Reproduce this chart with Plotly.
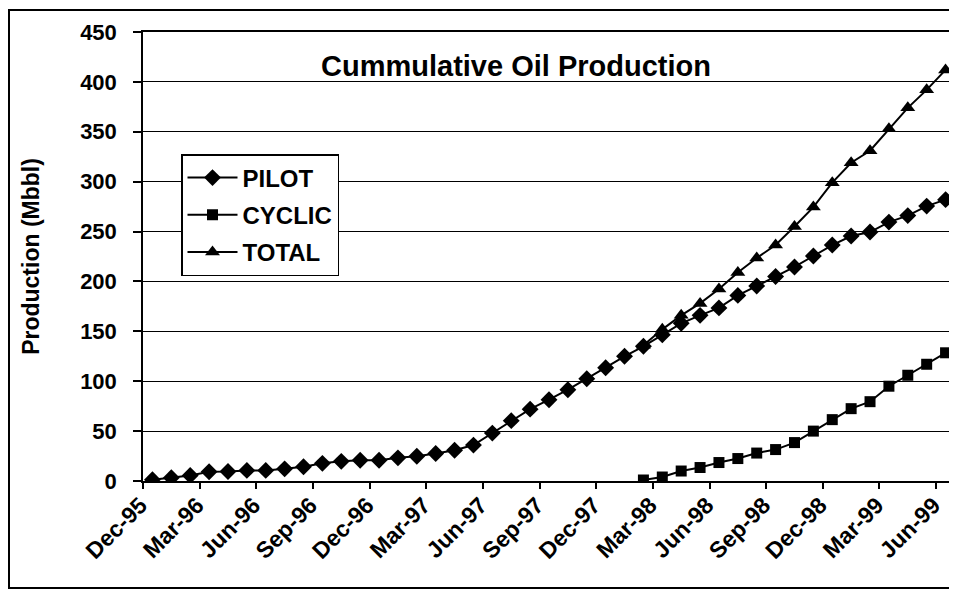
import plotly.graph_objects as go

months = ["Dec-95", "Jan-96", "Feb-96", "Mar-96", "Apr-96", "May-96", "Jun-96", "Jul-96", "Aug-96",
          "Sep-96", "Oct-96", "Nov-96", "Dec-96", "Jan-97", "Feb-97", "Mar-97", "Apr-97", "May-97",
          "Jun-97", "Jul-97", "Aug-97", "Sep-97", "Oct-97", "Nov-97", "Dec-97", "Jan-98", "Feb-98",
          "Mar-98", "Apr-98", "May-98", "Jun-98", "Jul-98", "Aug-98", "Sep-98", "Oct-98", "Nov-98",
          "Dec-98", "Jan-99", "Feb-99", "Mar-99", "Apr-99", "May-99", "Jun-99"]

pilot = [1.3, 3.2, 5.5, 9.3, 9.5, 10.6, 10.6, 12.2, 14.3, 17.7, 19.7, 20.8, 20.8, 23.2, 24.8,
         27.5, 30.8, 36, 48, 60.5, 72, 81.5, 91.5, 102.5, 113.5, 125, 135, 146.5, 158, 166,
         173.5, 186, 195.5, 205, 214.5, 225.5, 236.5, 245.5, 249.5, 259.5, 266, 275.5, 282]

cyclic_months = months[26:]
cyclic = [1, 4, 10, 13.5, 18.5, 22.5, 28, 31.5, 38.5, 50, 61.5, 72.5, 79.5, 95, 106, 117, 128.5]

total_months = months[26:]
total = [136, 152, 166, 178, 192.5, 209, 223.5, 236.5, 255, 274.5, 299, 319, 331, 353, 374, 392, 412]

y_ticks = [0, 50, 100, 150, 200, 250, 300, 350, 400, 450]

FONT = "Liberation Sans, Arial, sans-serif"

# page body has an 8px margin, so figure coordinates are screen coordinates minus 8
OFF = 8
W, H = 957 - OFF, 592 - OFF
L, T = 143 - OFF, 32 - OFF
R = W - (955 - OFF)
B = H - (481 - OFF)
PW, PH = W - L - R, H - T - B

fig = go.Figure()
fig.add_trace(go.Scatter(x=months, y=pilot, name="PILOT", mode="lines+markers", legendgroup="p",
                         line=dict(color="black", width=2),
                         marker=dict(symbol="diamond", size=13, color="black")))
fig.add_trace(go.Scatter(x=cyclic_months, y=cyclic, name="CYCLIC", mode="lines+markers", legendgroup="c",
                         line=dict(color="black", width=2),
                         marker=dict(symbol="square", size=11, color="black")))
fig.add_trace(go.Scatter(x=total_months, y=total, name="TOTAL", mode="lines+markers", legendgroup="t",
                         line=dict(color="black", width=2),
                         marker=dict(symbol="triangle-up", size=13, color="black")))

fig.update_layout(
    width=W, height=H,
    margin=dict(l=L, r=R, t=T, b=B, autoexpand=False),
    paper_bgcolor="white", plot_bgcolor="white",
    font=dict(family=FONT, color="black", size=22, weight="bold"),
    showlegend=True,
    legend=dict(x=(181 - 143) / PW, y=1 - (154 - 32) / PH,
                xref="paper", yref="paper", xanchor="left", yanchor="top",
                bgcolor="white", bordercolor="black", borderwidth=1.5,
                font=dict(family=FONT, size=24, color="black", weight="bold"),
                tracegroupgap=3, itemwidth=50),
    annotations=[dict(text="Cummulative Oil Production", x=(516 - 143) / PW, y=1 - (66 - 32) / PH,
                      xref="paper", yref="paper", showarrow=False,
                      xanchor="center", yanchor="middle",
                      font=dict(family=FONT, size=29, color="black", weight="bold"))],
    shapes=[dict(type="rect", xref="paper", yref="paper",
                 x0=-(143 - 9) / PW, x1=1.1, y0=-(588 - 481) / PH, y1=1 + (32 - 10) / PH,
                 line=dict(color="black", width=2), layer="below")],
)

fig.update_xaxes(type="category", categoryorder="array", categoryarray=months,
                 range=[-0.5, len(months) - 0.5], automargin=False,
                 tickmode="linear", tick0=0, dtick=3, tickson="boundaries",
                 ticks="outside", ticklen=6, tickwidth=1.5, tickcolor="black",
                 tickangle=-45, ticklabelshift=-12,
                 tickfont=dict(family=FONT, size=23, color="black", weight="bold"),
                 showgrid=False, showline=True, linecolor="black", linewidth=1.5, mirror=True,
                 zeroline=False)
fig.update_yaxes(range=[0, 450], tickmode="array", tickvals=y_ticks, automargin=False,
                 ticks="outside", ticklen=8, tickwidth=1.5, tickcolor="black",
                 ticklabelstandoff=12,
                 tickfont=dict(family=FONT, size=22, color="black", weight="bold"),
                 showgrid=True, gridcolor="black", gridwidth=1.2,
                 showline=True, linecolor="black", linewidth=1.5, mirror=True, zeroline=False,
                 title=dict(text="Production (Mbbl)", standoff=34,
                            font=dict(family=FONT, size=23, color="black", weight="bold")))

fig.write_html("out.html")
